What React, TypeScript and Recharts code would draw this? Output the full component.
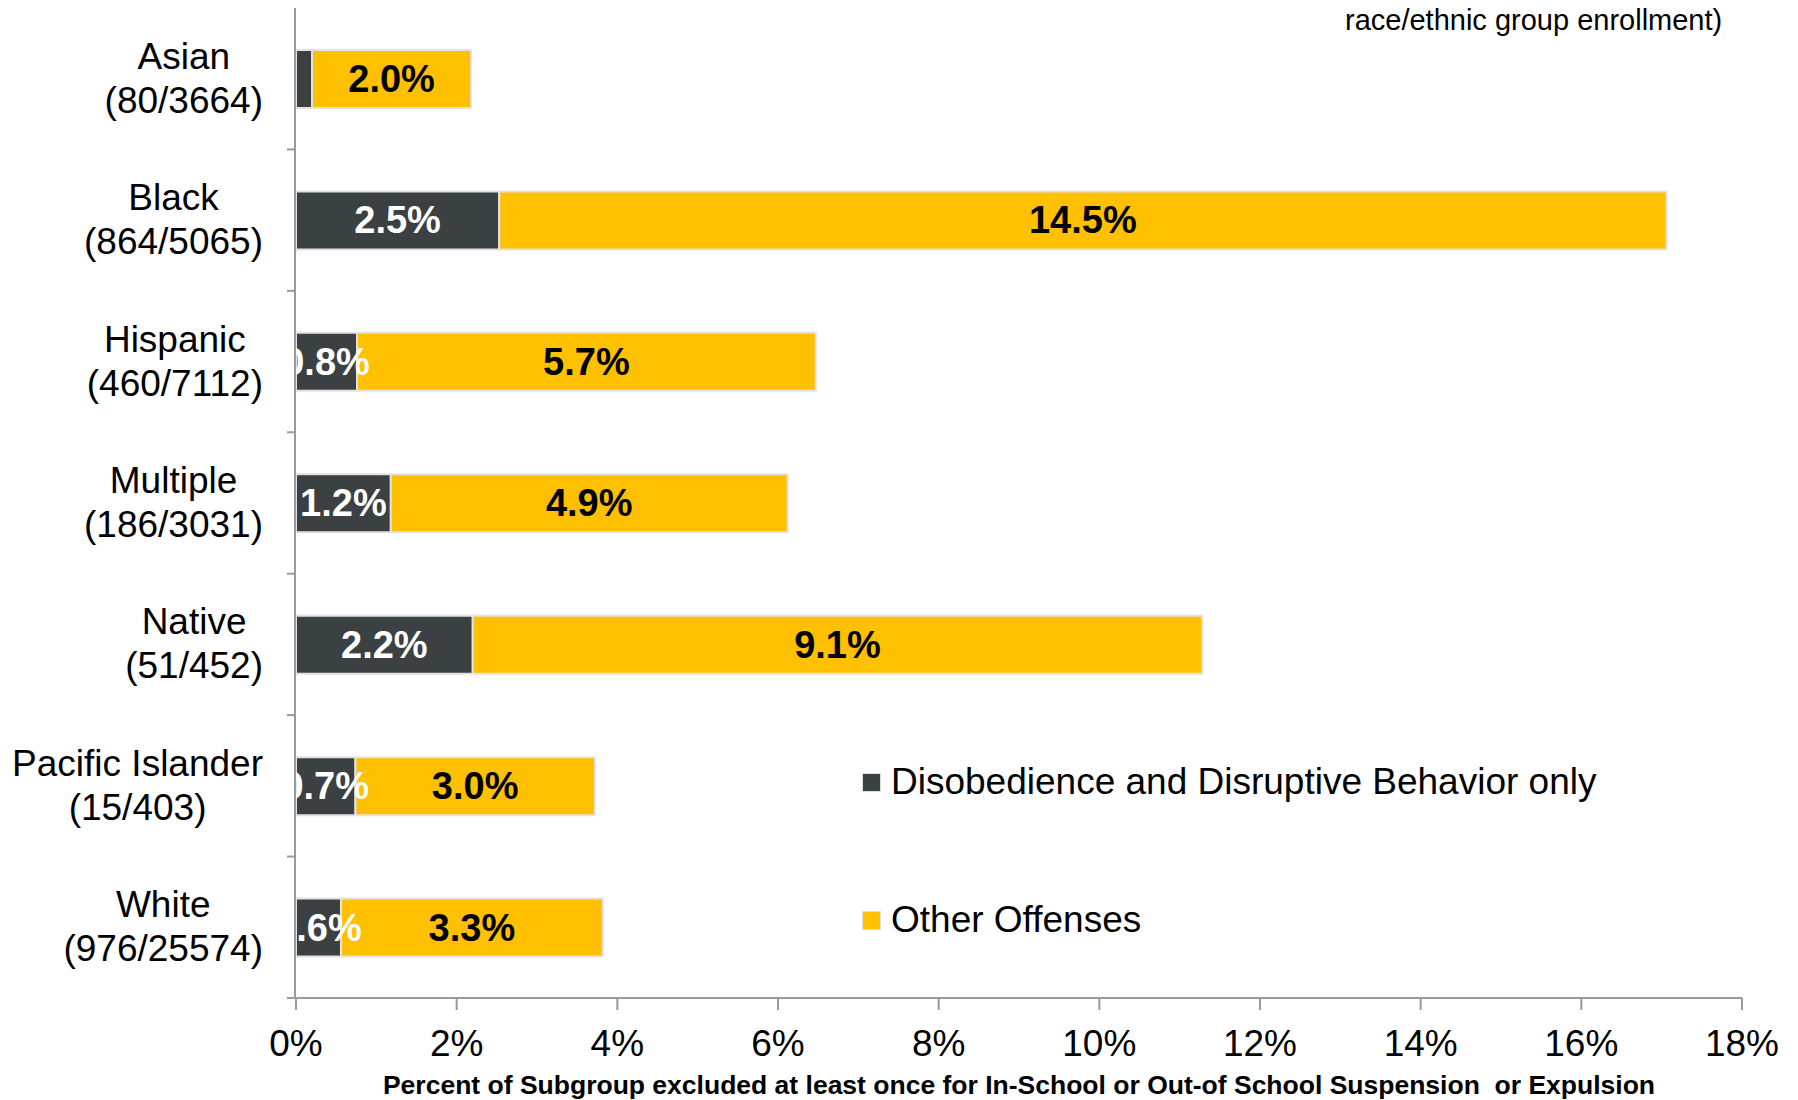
import React from 'react'
import { BarChart, Bar, XAxis, YAxis, Legend, LabelList, Label } from 'recharts'

const categories = ['Asian', 'Black', 'Hispanic', 'Multiple', 'Native', 'Pacific Islander', 'White']
const counts = ['(80/3664)', '(864/5065)', '(460/7112)', '(186/3031)', '(51/452)', '(15/403)', '(976/25574)']
const disruptive = [0.2, 2.53, 0.76, 1.18, 2.2, 0.74, 0.56]
const other = [1.98, 14.53, 5.71, 4.94, 9.08, 2.98, 3.26]
const seriesNames = ['Disobedience and Disruptive Behavior only', 'Other Offenses']
const xTicks = [0, 2, 4, 6, 8, 10, 12, 14, 16, 18]
const edgeTicks = [0, 1, 2, 3, 4, 5, 6, 7]

const DARK = '#3b4043'
const GOLD = '#ffc000'
const AXIS = '#9a9a9a'
const FONT = '"Liberation Sans", Arial, sans-serif'

const data = categories.map((name, i) => ({
  name,
  count: counts[i],
  disruptive: disruptive[i],
  other: other[i],
  edge: i,
}))

const fmt = (v: number) => `${v.toFixed(1)}%`

let ctx: CanvasRenderingContext2D | null = null
function textWidth(s: string) {
  if (!ctx) ctx = document.createElement('canvas').getContext('2d')
  if (!ctx) return s.length * 18
  ctx.font = `37px ${FONT}`
  return ctx.measureText(s).width
}

// two-line label, lines centred on each other, block right-aligned
const CategoryTick = ({ x, y, payload }: any) => {
  const row = data.find((d) => d.name === payload.value)
  if (!row) return null
  const w = Math.max(textWidth(row.name), textWidth(row.count))
  const cx = x - w / 2
  return (
    <text textAnchor="middle" fontSize={37} fontFamily={FONT} fill="#000">
      <tspan x={cx} y={y - 10}>{row.name}</tspan>
      <tspan x={cx} y={y + 34}>{row.count}</tspan>
    </text>
  )
}

const OtherLabel = (props: any) => {
  const { x, y, width, height, value } = props
  return (
    <text x={x + width / 2} y={y + height / 2 + 13} textAnchor="middle"
      fontSize={38} fontWeight={700} fontFamily={FONT} fill="#000">
      {fmt(value)}
    </text>
  )
}

// drawn from the gold bar so it sits on top of it; dark bar width from ratio
const DarkLabel = (props: any) => {
  const { x, y, width, height, index } = props
  const d = disruptive[index]
  const o = other[index]
  if (d < 0.5) return null
  const darkW = (width * d) / o
  const x0 = x - darkW
  const id = `clip-dark-${index}`
  return (
    <g>
      <defs>
        <clipPath id={id}>
          <rect x={x0} y={y} width={darkW + 300} height={height} />
        </clipPath>
      </defs>
      <text clipPath={`url(#${id})`} x={x0 + darkW / 2} y={y + height / 2 + 13} textAnchor="middle"
        fontSize={38} fontWeight={700} fontFamily={FONT} fill="#fff">
        {fmt(d)}
      </text>
    </g>
  )
}

const LegendContent = (props: any) => {
  const items = props.payload || []
  return (
    <div style={{ fontFamily: FONT, fontSize: 37, color: '#000' }}>
      {items.map((it: any, i: number) => (
        <div key={it.value} style={{ display: 'flex', alignItems: 'center', height: 40, marginBottom: i === 0 ? 98 : 0, whiteSpace: 'nowrap' }}>
          <span style={{ display: 'inline-block', width: 19, height: 19, background: it.color, marginRight: 10, boxSizing: 'border-box', border: '1px solid #ddd' }} />
          {it.value}
        </div>
      ))}
    </div>
  )
}

const NoTick = () => <g />

export default function App() {
  return (
    <div style={{ position: 'absolute', left: 0, top: 0, width: 1798, height: 1100, background: '#fff' }}>
      <div style={{ position: 'absolute', left: 1345, top: 2, fontFamily: FONT, fontSize: 29, lineHeight: '36px', color: '#000', whiteSpace: 'nowrap' }}>
        race/ethnic group enrollment)
      </div>
      <BarChart width={1798} height={1100} data={data} layout="vertical"
        margin={{ top: 8, right: 56, bottom: 0, left: 0 }}>
        <XAxis type="number" domain={[0, 18]} ticks={xTicks} tickFormatter={(v) => `${v}%`}
          height={102} stroke={AXIS} strokeWidth={2} tickSize={12} tickMargin={20}
          tick={{ fontSize: 37, fontFamily: FONT, fill: '#000' }} interval={0}>
          <Label value={'Percent of Subgroup excluded at least once for In-School or Out-of School Suspension\u00a0 or Expulsion'}
            position="insideBottom" offset={6}
            style={{ fontSize: 26.5, fontWeight: 700, fontFamily: FONT, fill: '#000' }} />
        </XAxis>
        <YAxis type="category" dataKey="name" width={1} axisLine={false} tickLine={false}
          tickSize={0} tickMargin={33} tick={<CategoryTick />} interval={0} />
        <YAxis yAxisId="edges" type="number" dataKey="edge" domain={[0, 7]} ticks={edgeTicks} tick={<NoTick />}
          tickSize={8} width={295} stroke={AXIS} strokeWidth={2} allowDataOverflow />
        <Legend layout="vertical" verticalAlign="middle" align="center" content={<LegendContent />}
          wrapperStyle={{ left: 862, top: 762, width: 'auto' }} />
        <Bar dataKey="disruptive" name={seriesNames[0]} stackId="a" fill={DARK} barSize={58}
          stroke="#e2e2e2" strokeWidth={2} isAnimationActive={false} />
        <Bar dataKey="other" name={seriesNames[1]} stackId="a" fill={GOLD} barSize={58}
          stroke="#e2e2e2" strokeWidth={2} isAnimationActive={false}>
          <LabelList dataKey="other" content={<OtherLabel />} />
          <LabelList dataKey="disruptive" content={<DarkLabel />} />
        </Bar>
      </BarChart>
    </div>
  )
}
